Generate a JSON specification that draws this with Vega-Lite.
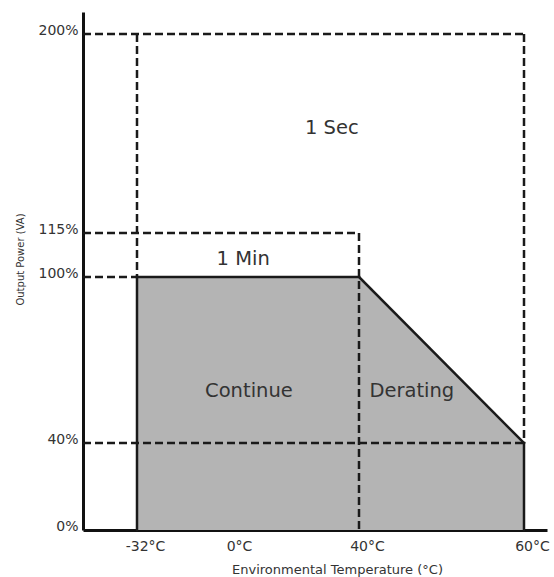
{
  "$schema": "https://vega.github.io/schema/vega-lite/v6.json",
  "autosize": {"type": "none"},
  "padding": {"left": 83, "top": 12, "right": 7, "bottom": 47},
  "width": 464,
  "height": 518,
  "background": "white",
  "config": {"view": {"stroke": null}, "font": "DejaVu Sans"},
  "datasets": {
    "region": [
      {"t": -32, "p": 100},
      {"t": 40, "p": 100},
      {"t": 60, "p": 40}
    ],
    "guides": [
      {"t": -50, "p": 200, "t2": 60, "p2": 200},
      {"t": -32, "p": 200, "t2": -32, "p2": 100},
      {"t": 60, "p": 200, "t2": 60, "p2": 40},
      {"t": -50, "p": 115, "t2": 40, "p2": 115},
      {"t": 40, "p": 115, "t2": 40, "p2": 0},
      {"t": -50, "p": 100, "t2": -32, "p2": 100},
      {"t": -50, "p": 40, "t2": 60, "p2": 40}
    ],
    "boundary": [
      {"t": -32, "p": 0, "t2": -32, "p2": 100},
      {"t": -32, "p": 100, "t2": 40, "p2": 100},
      {"t": 40, "p": 100, "t2": 60, "p2": 40},
      {"t": 60, "p": 40, "t2": 60, "p2": 0}
    ],
    "notes": [
      {"label": "1 Sec", "t": 31.5, "p": 160},
      {"label": "1 Min", "t": 3.8, "p": 106.1},
      {"label": "Continue", "t": 5.6, "p": 58.8},
      {"label": "Derating", "t": 46.4, "p": 58.8}
    ]
  },
  "encoding": {
    "x": {
      "field": "t",
      "type": "quantitative",
      "title": "Environmental Temperature (°C)",
      "scale": {"domain": [-50, -32, 0, 40, 60, 63], "range": [0, 54, 148, 276, 441, 464], "nice": false, "zero": false},
      "axis": {
        "values": [-32, 0, 40, 60],
        "labelExpr": "datum.value + '°C'",
        "ticks": false,
        "grid": false,
        "domainColor": "#111111",
        "domainWidth": 3,
        "labelPadding": 9,
        "labelOffset": 8,
        "labelFont": "DejaVu Sans",
        "labelFontSize": 14,
        "labelColor": "#333333",
        "labelOverlap": false,
        "labelBound": false,
        "labelFlush": false,
        "titleFont": "DejaVu Sans",
        "titleFontSize": 13,
        "titleFontWeight": "normal",
        "titleColor": "#333333",
        "titleX": 254,
        "titleY": 39,
        "titleAlign": "center",
        "titleBaseline": "middle"
      }
    },
    "y": {
      "field": "p",
      "type": "quantitative",
      "title": "Output Power (VA)",
      "scale": {"domain": [0, 40, 100, 115, 200, 209], "range": [518, 431, 265, 221, 22, 0], "nice": false, "zero": false},
      "axis": {
        "values": [0, 40, 100, 115, 200],
        "labelExpr": "datum.value + '%'",
        "ticks": false,
        "grid": false,
        "domainColor": "#111111",
        "domainWidth": 3,
        "labelPadding": 5,
        "labelOffset": -4,
        "labelFont": "DejaVu Sans",
        "labelFontSize": 14,
        "labelColor": "#333333",
        "labelOverlap": false,
        "labelBound": false,
        "labelFlush": false,
        "titleFont": "DejaVu Sans",
        "titleFontSize": 10,
        "titleFontWeight": "normal",
        "titleColor": "#333333",
        "titleX": -63,
        "titleY": 247,
        "titleAngle": 270,
        "titleAlign": "center",
        "titleBaseline": "middle"
      }
    }
  },
  "layer": [
    {
      "data": {"name": "region"},
      "mark": {"type": "area", "color": "#b4b4b4", "opacity": 1},
      "encoding": {"y2": {"datum": 0}}
    },
    {
      "data": {"name": "guides"},
      "mark": {"type": "rule", "color": "#1a1a1a", "strokeWidth": 2.5, "strokeDash": [8, 4]},
      "encoding": {"x2": {"field": "t2"}, "y2": {"field": "p2"}}
    },
    {
      "data": {"name": "boundary"},
      "mark": {"type": "rule", "color": "#1a1a1a", "strokeWidth": 2.5, "strokeCap": "square"},
      "encoding": {"x2": {"field": "t2"}, "y2": {"field": "p2"}}
    },
    {
      "data": {"name": "notes"},
      "mark": {"type": "text", "font": "DejaVu Sans", "fontSize": 19.5, "color": "#333333", "align": "center", "baseline": "middle"},
      "encoding": {"text": {"field": "label"}}
    }
  ]
}
